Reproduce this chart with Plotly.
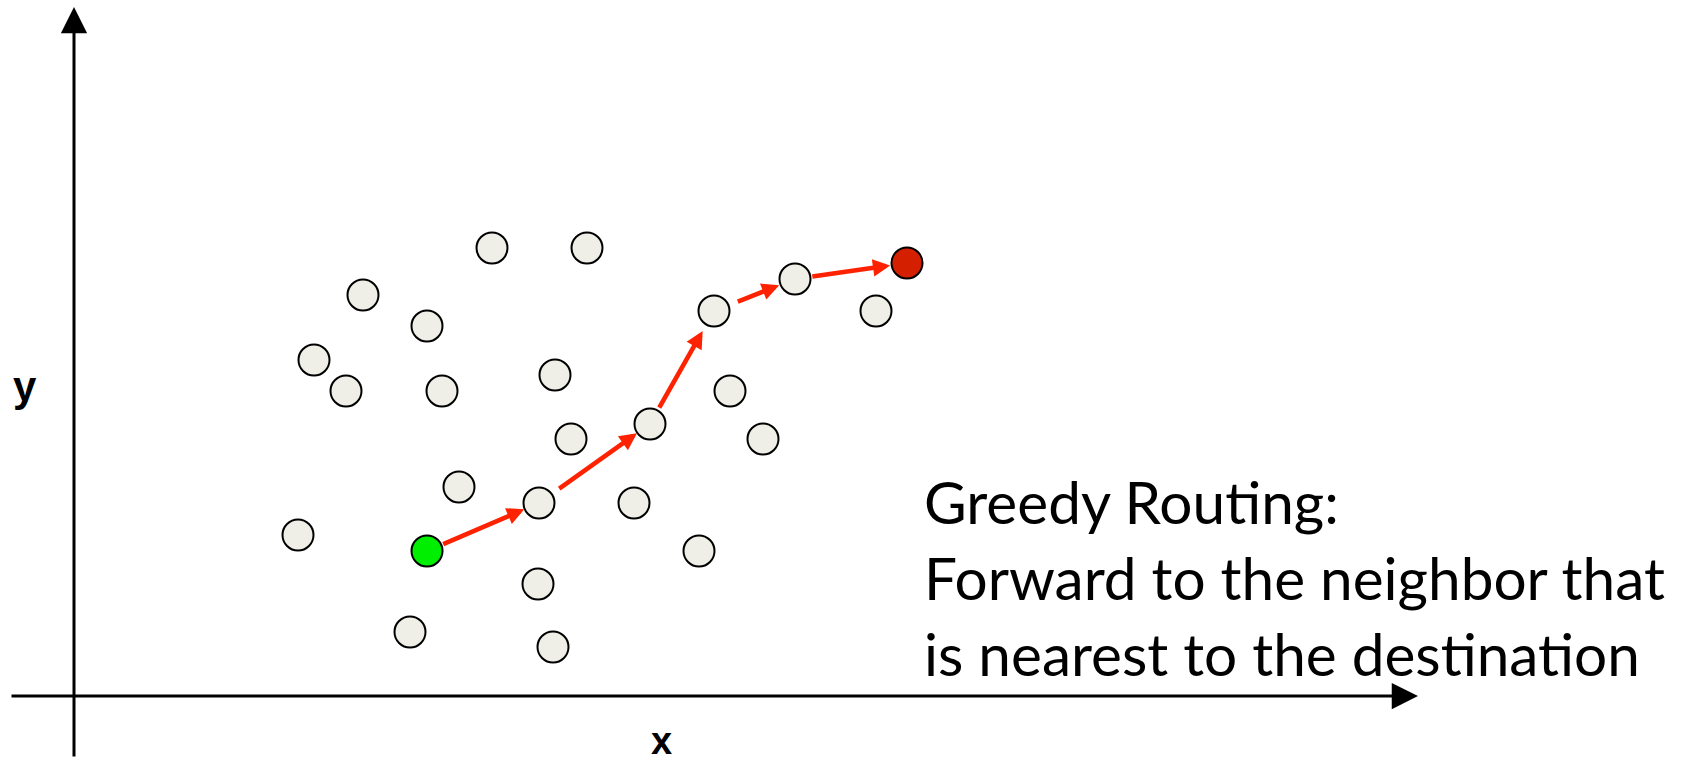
import plotly.graph_objects as go

# ---- data (x, y positions of the sensor nodes, arbitrary units) ----
node_x = [41.8, 51.3, 28.9, 35.3, 24.0, 27.2, 36.8, 48.1, 64.0, 72.1,
          80.2, 83.3, 65.6, 57.6, 49.7, 68.9, 38.5, 46.5, 56.0, 22.4,
          35.3, 62.5, 46.4, 33.6, 47.9]
node_y = [44.8, 44.8, 40.1, 37.0, 33.6, 30.5, 30.5, 32.1, 38.5, 41.7,
          38.5, 43.3, 30.5, 27.2, 25.7, 25.7, 20.9, 19.3, 19.3, 16.1,
          14.5, 14.5, 11.2, 6.4, 4.9]
# greedy route as node indices: source -> ... -> destination
route = [20, 17, 13, 8, 9, 11]
source_idx = route[0]
dest_idx = route[-1]

axis_x_end = 134.4
axis_y_end = 68.9
axis_x_start = -6.4
axis_y_start = -6.2

x_label = "x"
y_label = "y"
note_lines = ["Greedy Routing:", "Forward to the neighbor that",
              "is nearest to the destination"]

# ---- styling ----
node_fill = "#EFEFE7"
src_fill = "#00EE00"
dst_fill = "#D42000"
arrow_red = "#FF2200"
start_gap = [16, 23, 17, 24, 16]
end_gap = [16, 16, 23, 17, 17]

colors = [node_fill] * len(node_x)
colors[source_idx] = src_fill
colors[dest_idx] = dst_fill

fig = go.Figure()
fig.add_trace(go.Scatter(
    x=node_x, y=node_y, mode="markers",
    marker=dict(size=31, color=colors, line=dict(color="black", width=2)),
    hoverinfo="skip", showlegend=False, cliponaxis=False))

annotations = []
# axes with arrowheads
annotations.append(dict(x=axis_x_end, y=0, ax=axis_x_start, ay=0,
                        xref="x", yref="y", axref="x", ayref="y",
                        text="", showarrow=True, arrowhead=2, arrowsize=1.75,
                        arrowwidth=3, arrowcolor="black"))
annotations.append(dict(x=0, y=axis_y_end, ax=0, ay=axis_y_start,
                        xref="x", yref="y", axref="x", ayref="y",
                        text="", showarrow=True, arrowhead=2, arrowsize=1.75,
                        arrowwidth=3, arrowcolor="black"))
# route arrows
for k in range(len(route) - 1):
    a, b = route[k], route[k + 1]
    annotations.append(dict(x=node_x[b], y=node_y[b], ax=node_x[a], ay=node_y[a],
                            xref="x", yref="y", axref="x", ayref="y",
                            text="", showarrow=True, arrowhead=2, arrowsize=0.75,
                            arrowwidth=4.6, arrowcolor=arrow_red,
                            standoff=end_gap[k], startstandoff=start_gap[k]))
# axis labels
annotations.append(dict(x=58.7, y=0, xref="x", yref="paper", text=x_label,
                        showarrow=False, xanchor="center", yanchor="bottom",
                        borderpad=0,
                        font=dict(family="Liberation Sans", size=38, color="black",
                                  weight="bold")))
annotations.append(dict(x=-4.95, y=31.0, xref="x", yref="y", text=y_label,
                        showarrow=False, xanchor="center", yanchor="middle",
                        font=dict(family="Liberation Sans", size=42, color="black",
                                  weight="bold")))
# note text
annotations.append(dict(x=84.8, y=11.9, xref="x", yref="y",
                        text="<br>".join(note_lines), showarrow=False,
                        xanchor="left", yanchor="middle", align="left",
                        font=dict(family="Lato", size=58.5, color="black")))

fig.update_layout(
    width=1693, height=763,
    margin=dict(l=0, r=0, t=0, b=0),
    paper_bgcolor="white", plot_bgcolor="white",
    xaxis=dict(range=[-7.4, 161.9], visible=False, fixedrange=True),
    yaxis=dict(range=[-6.7, 69.6], visible=False, fixedrange=True),
    annotations=annotations,
    showlegend=False,
)

fig.write_html("out.html", config={"displayModeBar": False},
               post_script="document.body.style.margin='0';document.body.style.overflow='hidden';")
